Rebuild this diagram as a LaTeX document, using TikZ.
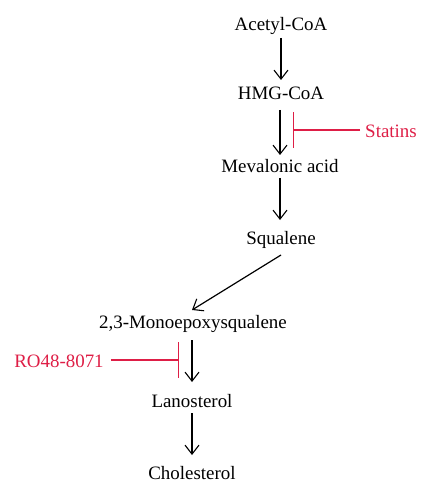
\documentclass[tikz,border=0pt]{standalone}
\usepackage{fontspec}
\setmainfont{Liberation Serif}
\usetikzlibrary{arrows.meta}
\definecolor{inhred}{RGB}{222,30,70}
\begin{document}
\begin{tikzpicture}[x=1bp,y=-1bp,
  met/.style={font=\fontsize{19}{22}\selectfont, inner sep=1bp},
  drug/.style={font=\fontsize{19}{22}\selectfont, text=inhred, inner sep=1bp},
  conv/.style={-{Straight Barb[length=9bp,width=14bp,line width=1.1bp]}, line width=1.2bp},
  inh/.style={inhred, line width=1.2bp, -{Bar[width=36bp,line width=1.2bp]}}]
\useasboundingbox (0,0) rectangle (433,500);
\node[met] (acetyl) at (281,26) {Acetyl-CoA};
\node[met] (hmg) at (281,93) {HMG-CoA};
\node[met] (meva) at (280,166) {Mevalonic acid};
\node[met] (squa) at (281,240) {Squalene};
\node[met] (mono) at (193,324) {2,3-Monoepoxysqualene};
\node[met] (lano) at (192,401) {Lanosterol};
\node[met] (chol) at (192,473) {Cholesterol};
\node[drug] (statins) at (391,131) {Statins};
\node[drug] (ro) at (59,361) {RO48-8071};
\draw[conv, shorten <=12bp, shorten >=13bp] (acetyl.center) -- (hmg.center);
\draw[conv, shorten <=17bp, shorten >=11bp] (hmg.center -| meva) -- (meva.center);
\draw[conv, shorten <=12bp, shorten >=20bp] (meva.center) -- (meva.center |- squa);
\draw[conv] ([yshift=-15bp]squa.center) -- ([xshift=-1bp,yshift=14bp]mono.center);
\draw[conv, shorten <=16bp, shorten >=19bp] (mono.center -| lano) -- (lano.center);
\draw[conv, shorten <=12bp, shorten >=18bp] (lano.center) -- (chol.center);
\coordinate (sbar) at (293,130);
\coordinate (rbar) at (179,360);
\draw[inh] ([xshift=-4bp,yshift=1bp]statins.west) -- (sbar);
\draw[inh] ([xshift=6bp,yshift=1bp]ro.east) -- (rbar);
\end{tikzpicture}
\end{document}
